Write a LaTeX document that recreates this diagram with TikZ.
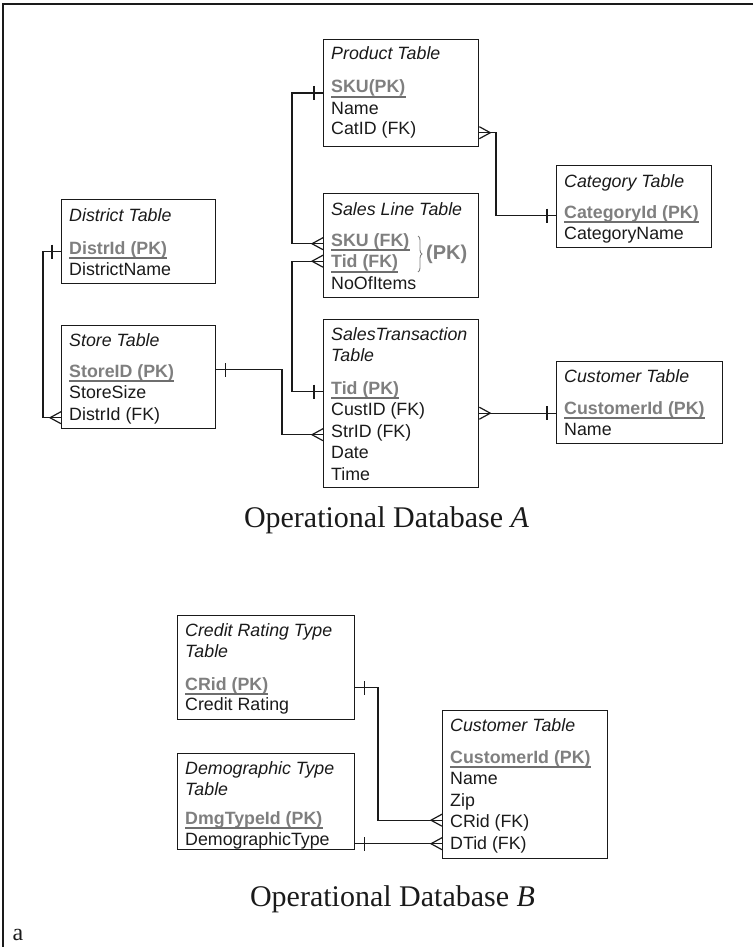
\documentclass[tikz,border=0pt]{standalone}
\usepackage{fontspec}
\setmainfont{Liberation Serif}
\newfontfamily\tabfont{Liberation Sans}
\usetikzlibrary{decorations.pathreplacing}
\definecolor{ink}{HTML}{1A1A1A}
\definecolor{pkgray}{HTML}{7F7F7F}
\definecolor{pkline}{HTML}{6E6E6E}

\begin{document}
\begin{tikzpicture}[x=1pt,y=-1pt,
  tbl/.style={draw=ink, line width=1.3pt, anchor=north west, inner sep=0pt},
  rowtxt/.style={anchor=base west, inner sep=0pt, text=ink,
    font=\tabfont\fontsize{17.8}{21}\selectfont},
  ttl/.style={rowtxt, font=\tabfont\itshape\fontsize{17.8}{21}\selectfont},
  pk/.style={rowtxt, text=pkgray, font=\tabfont\bfseries\fontsize{17.8}{21}\selectfont,
    append after command={([yshift=-4pt]\tikzlastnode.base west) edge[uline] ([yshift=-4pt]\tikzlastnode.base east)}},
  uline/.style={draw=pkline, line width=2pt},
  conn/.style={draw=ink, line width=1.2pt},
  onebar/.pic={\draw[conn] (-9,-7) -- (-9,7);},
  crow/.pic={\draw[conn] (0,-6) -- (-11,0) -- (0,6);},
  dbtitle/.style={anchor=base, inner sep=0pt, text=ink, font=\fontsize{30}{36}\selectfont},
  pkbrace/.style={decorate, decoration={brace, amplitude=4pt}, draw=pkgray, line width=0.9pt}
]
\useasboundingbox (0,0) rectangle (753,947);

% outer frame (top and left edges)
\draw[ink, line width=2pt] (753,4) -- (3,4) -- (3,947);

% ---------------- Operational Database A ----------------
% Product Table
\node[tbl, minimum width=155pt, minimum height=107pt] (prod) at (323,39) {};
\node[ttl] (prodT) at (331,60) {Product Table};
\node[pk] (psku) at (331,93) {SKU(PK)};
\node[rowtxt] (pname) at (331,114) {Name};
\node[rowtxt] (pcat) at (331,135) {CatID (FK)};

% Sales Line Table
\node[tbl, minimum width=155pt, minimum height=104pt] (sl) at (323,193) {};
\node[ttl] (slT) at (331,215) {Sales Line Table};
\node[pk] (ssku) at (331,246) {SKU (FK)};
\node[pk] (stid) at (331,267.5) {Tid (FK)};
\node[rowtxt] (sno) at (331,289) {NoOfItems};
\draw[pkbrace] (418,236) -- (418,272);
\node[rowtxt, text=pkgray, font=\tabfont\bfseries\fontsize{20}{22}\selectfont] (slpk) at (426,259) {(PK)};

% SalesTransaction Table
\node[tbl, minimum width=155pt, minimum height=168pt] (trans) at (323,319) {};
\node[ttl] (transT) at (331,340) {SalesTransaction};
\node[ttl] (transT2) at (331,361) {Table};
\node[pk] (ttid) at (331,394) {Tid (PK)};
\node[rowtxt] (tcust) at (331,415.5) {CustID (FK)};
\node[rowtxt] (tstr) at (331,437) {StrID (FK)};
\node[rowtxt] (tdate) at (331,458.5) {Date};
\node[rowtxt] (ttime) at (331,480) {Time};

% District Table
\node[tbl, minimum width=154pt, minimum height=84pt] (dist) at (61,199) {};
\node[ttl] (distT) at (69,221) {District Table};
\node[pk] (dpk) at (69,254) {DistrId (PK)};
\node[rowtxt] (dname) at (69,275) {DistrictName};

% Store Table
\node[tbl, minimum width=154pt, minimum height=103pt] (store) at (61,325) {};
\node[ttl] (storeT) at (69,346) {Store Table};
\node[pk] (stpk) at (69,377) {StoreID (PK)};
\node[rowtxt] (stsize) at (69,398.5) {StoreSize};
\node[rowtxt] (stdist) at (69,420) {DistrId (FK)};

% Category Table
\node[tbl, minimum width=155pt, minimum height=82pt] (cat) at (556,165) {};
\node[ttl] (catT) at (564,187) {Category Table};
\node[pk] (cpk) at (564,218) {CategoryId (PK)};
\node[rowtxt] (cname) at (564,239) {CategoryName};

% Customer Table (A)
\node[tbl, minimum width=166pt, minimum height=82pt] (ca) at (556,361) {};
\node[ttl] (caT) at (564,382) {Customer Table};
\node[pk] (capk) at (564,414) {CustomerId (PK)};
\node[rowtxt] (caname) at (564,435) {Name};

% bend points of the routed connectors
\coordinate (b1) at (292,0);
\coordinate (b3) at (496,0);
\coordinate (b4) at (43,0);
\coordinate (b5) at (282,0);
\coordinate (b7) at (378,0);

% Product SKU -> Sales Line SKU
\draw[conn] (prod.west |- psku.base) -| (b1 |- ssku.mid) -- (sl.west |- ssku.mid);
\path (prod.west |- psku.base) pic{onebar};
\path (sl.west |- ssku.mid) pic{crow};

% SalesTransaction Tid -> Sales Line Tid
\draw[conn] ([yshift=4pt]sl.west |- stid.mid) -| (b1 |- ttid.mid) -- (trans.west |- ttid.mid);
\path ([yshift=4pt]sl.west |- stid.mid) pic{crow};
\path (trans.west |- ttid.mid) pic{onebar};

% Category -> Product CatID
\draw[conn] (prod.east |- pcat.mid) -| (b3 |- cpk.mid) -- (cat.west |- cpk.mid);
\path (prod.east |- pcat.mid) pic[rotate=180]{crow};
\path (cat.west |- cpk.mid) pic{onebar};

% District -> Store DistrId
\draw[conn] (dist.west |- dpk.mid) -| (b4 |- stdist.mid) -- (store.west |- stdist.mid);
\path (dist.west |- dpk.mid) pic{onebar};
\path (store.west |- stdist.mid) pic{crow};

% Store -> SalesTransaction StrID
\draw[conn] ([yshift=5pt]store.east |- stpk.mid) -| (b5 |- tstr.mid) -- (trans.west |- tstr.mid);
\path ([yshift=5pt]store.east |- stpk.mid) pic[rotate=180]{onebar};
\path (trans.west |- tstr.mid) pic{crow};

% Customer -> SalesTransaction CustID
\draw[conn] (trans.east |- tcust.mid) -- (ca.west |- tcust.mid);
\path (trans.east |- tcust.mid) pic[rotate=180]{crow};
\path (ca.west |- tcust.mid) pic{onebar};

\node[dbtitle] (titleA) at (386.5,527) {Operational Database \textit{A}};

% ---------------- Operational Database B ----------------
% Credit Rating Type Table
\node[tbl, minimum width=177pt, minimum height=104pt] (cr) at (177,615) {};
\node[ttl] (crT) at (185,636) {Credit Rating Type};
\node[ttl] (crT2) at (185,657) {Table};
\node[pk] (crpk) at (185,690) {CRid (PK)};
\node[rowtxt] (crname) at (185,710.5) {Credit Rating};

% Demographic Type Table
\node[tbl, minimum width=177pt, minimum height=96pt] (dm) at (177,753) {};
\node[ttl] (dmT) at (185,774) {Demographic Type};
\node[ttl] (dmT2) at (185,795) {Table};
\node[pk] (dmpk) at (185,824) {DmgTypeId (PK)};
\node[rowtxt] (dmname) at (185,845) {DemographicType};

% Customer Table (B)
\node[tbl, minimum width=165pt, minimum height=148pt] (cb) at (442,710) {};
\node[ttl] (cbT) at (450,731) {Customer Table};
\node[pk] (cbpk) at (450,763) {CustomerId (PK)};
\node[rowtxt] (cbname) at (450,784.5) {Name};
\node[rowtxt] (cbzip) at (450,806) {Zip};
\node[rowtxt] (cbcr) at (450,827.5) {CRid (FK)};
\node[rowtxt] (cbdt) at (450,849) {DTid (FK)};

% Credit Rating -> Customer CRid
\draw[conn] (cr.east |- crpk.mid) -| ([yshift=5pt]b7 |- cbcr.mid) -- ([yshift=5pt]cb.west |- cbcr.mid);
\path (cr.east |- crpk.mid) pic[rotate=180]{onebar};
\path ([yshift=5pt]cb.west |- cbcr.mid) pic{crow};

% Demographic -> Customer DTid
\draw[conn] ([yshift=3pt]dm.east |- cbdt.mid) -- ([yshift=3pt]cb.west |- cbdt.mid);
\path ([yshift=3pt]dm.east |- cbdt.mid) pic[rotate=180]{onebar};
\path ([yshift=3pt]cb.west |- cbdt.mid) pic{crow};

\node[dbtitle] (titleB) at (392.5,906) {Operational Database \textit{B}};

\node[anchor=base west, inner sep=0pt, text=ink, font=\fontsize{24}{28}\selectfont] (lbl) at (12.5,940) {a};
\end{tikzpicture}
\end{document}
